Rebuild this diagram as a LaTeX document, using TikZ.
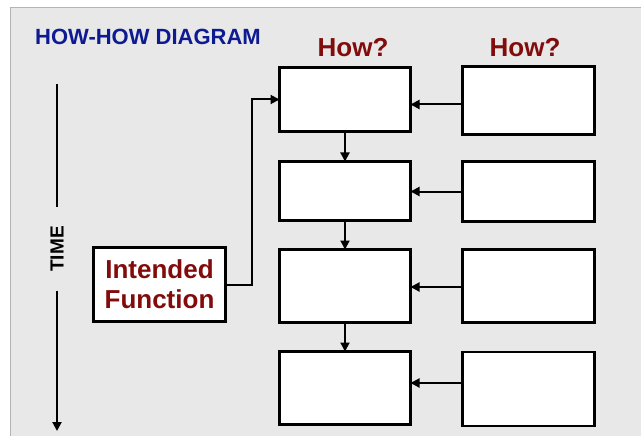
\documentclass[tikz,border=0pt]{standalone}
\usepackage{fontspec}
\setmainfont{Liberation Sans}
\usetikzlibrary{arrows.meta}
\definecolor{panelgray}{RGB}{232,232,232}
\definecolor{edgegray}{RGB}{180,180,180}
\definecolor{titleblue}{RGB}{14,26,145}
\definecolor{howred}{RGB}{130,12,12}
\begin{document}
\begin{tikzpicture}[x=1pt,y=-1pt,
  box/.style={draw=black,line width=2.6pt,fill=white,minimum width=131pt,inner sep=0pt,outer sep=0pt},
  arr/.style={line width=2pt,-{Triangle[length=9pt,width=9pt]}},
  howlbl/.style={font=\bfseries\fontsize{26}{30}\selectfont,text=howred,inner sep=0pt,anchor=base}]
\useasboundingbox (0,0) rectangle (641,436);
% background panel
\fill[white] (0,0) rectangle (641,436);
\fill[panelgray] (10,8) rectangle (641,436);
\draw[edgegray,line width=1pt] (10,436) -- (10,8) -- (641,8);

% title and column headings
\node[font=\bfseries\fontsize{22}{26}\selectfont,text=titleblue,anchor=base west,inner sep=0pt] (title) at (35,45) {HOW-HOW DIAGRAM};
\node[howlbl] (how1) at (353,57) {How?};
\node[howlbl] (how2) at (525,57) {How?};

% first column of boxes
\node[box,minimum height=64pt] (c1r1) at (345,99.5) {};
\node[box,minimum height=59pt] (c1r2) at (345,191) {};
\node[box,minimum height=73pt] (c1r3) at (345,286) {};
\node[box,minimum height=73pt] (c1r4) at (345,388) {};

% second column of boxes
\node[box,minimum width=132pt,minimum height=68pt] (c2r1) at (528.5,100.5) {};
\node[box,minimum width=132pt,minimum height=60pt] (c2r2) at (528.5,191.5) {};
\node[box,minimum width=132pt,minimum height=73pt] (c2r3) at (528.5,286) {};
\node[box,minimum width=132pt,minimum height=74pt] (c2r4) at (528.5,389) {};

% intended function
\node[box,minimum width=132pt,minimum height=74pt,align=center,
      font=\bfseries\fontsize{26}{30}\selectfont,text=howred] (func) at (159.5,284.5) {Intended\\Function};

% connectors
\draw[arr] (func.east) -- ++(26,0) |- (c1r1.west);
\draw[arr] (c1r1.south) -- (c1r2.north);
\draw[arr] (c1r2.south) -- (c1r3.north);
\draw[arr] (c1r3.south) -- (c1r4.north);
\draw[arr] ([yshift=-4pt]c2r1.west) -- ([yshift=-4pt]c2r1.west -| c1r1.east);
\draw[arr] (c2r2.west) -- (c2r2.west -| c1r2.east);
\draw[arr] ([yshift=-1pt]c2r3.west) -- ([yshift=-1pt]c2r3.west -| c1r3.east);
\draw[arr] ([yshift=6pt]c2r4.west) -- ([yshift=6pt]c2r4.west -| c1r4.east);

% time axis
\coordinate (timetop) at (57,84);
\coordinate (timebot) at (57,431);
\node[font=\bfseries\fontsize{19}{22}\selectfont,rotate=90,inner xsep=19pt,inner ysep=0pt,outer sep=0pt] (timelbl) at (57,249) {TIME};
\draw[line width=2pt] (timetop) -- (timelbl.east);
\draw[arr] (timelbl.west) -- (timebot);
\end{tikzpicture}
\end{document}
